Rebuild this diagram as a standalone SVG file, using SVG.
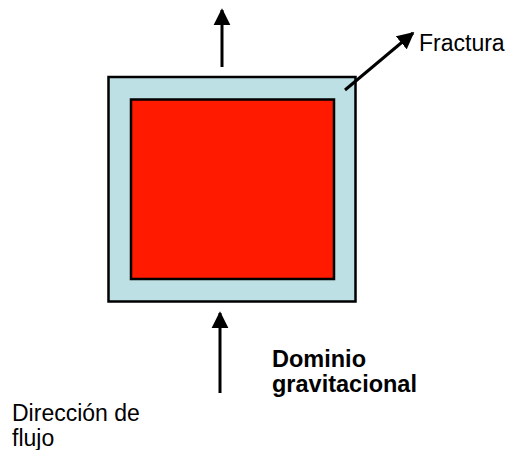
<svg xmlns="http://www.w3.org/2000/svg" width="507" height="450" viewBox="0 0 507 450">
<defs>
<style>
.lbl{font-family:"Liberation Sans",Arial,sans-serif;font-size:23px;fill:#000}
.b{font-weight:bold;font-size:23.5px}
.ln{stroke:#000;stroke-width:3;fill:none}
</style>
<marker id="ah" viewBox="0 0 10 10" refX="9" refY="5" markerUnits="userSpaceOnUse" markerWidth="17" markerHeight="18" orient="auto">
<path d="M0,0 L10,5 L0,10 Z" fill="#000"/>
</marker>
</defs>
<rect width="507" height="450" fill="#fff"/>
<g id="outer"><rect x="108.5" y="77" width="247" height="224.5" fill="#BCE0E4" stroke="#000" stroke-width="2.5"/></g>
<g id="inner"><rect x="131" y="99.5" width="203" height="179.5" fill="#FF1A00" stroke="#000" stroke-width="2.5"/></g>
<g id="connectors">
<line class="ln" x1="222" y1="67" x2="222" y2="10" marker-end="url(#ah)"/>
<line class="ln" x1="220" y1="393" x2="220" y2="313" marker-end="url(#ah)"/>
<line class="ln" x1="345" y1="90" x2="413" y2="33" marker-end="url(#ah)"/>
</g>
<g id="labels">
<text class="lbl" x="419" y="51">Fractura</text>
<text class="lbl b" x="272" y="367">Dominio</text>
<text class="lbl b" x="272" y="392">gravitacional</text>
<text class="lbl" x="12" y="421">Dirección de</text>
<text class="lbl" x="12" y="446">flujo</text>
</g>
</svg>
